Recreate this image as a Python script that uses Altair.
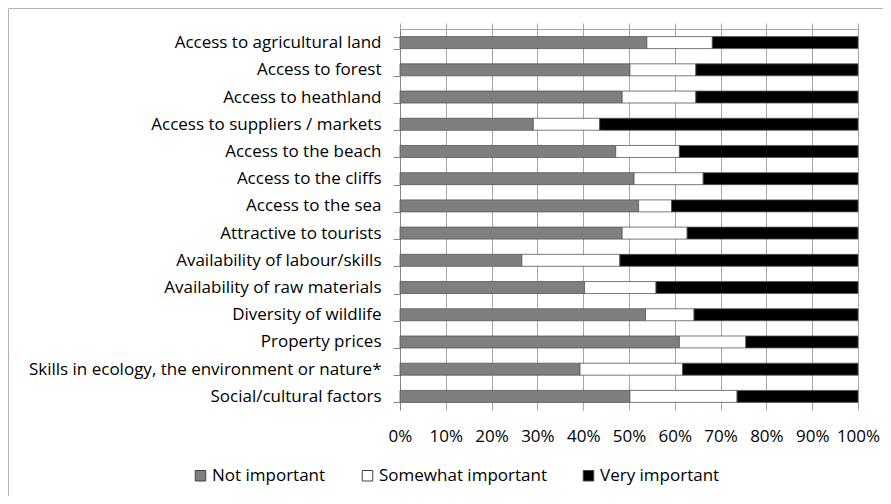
import altair as alt
import pandas as pd

categories = [
    "Access to agricultural land",
    "Access to forest",
    "Access to heathland",
    "Access to suppliers / markets",
    "Access to the beach",
    "Access to the cliffs",
    "Access to the sea",
    "Attractive to tourists",
    "Availability of labour/skills",
    "Availability of raw materials",
    "Diversity of wildlife",
    "Property prices",
    "Skills in ecology, the environment or nature*",
    "Social/cultural factors",
]
not_important = [53.9, 50.2, 48.5, 29.1, 47.1, 51.1, 52.1, 48.5, 26.6, 40.3, 53.6, 61.0, 39.3, 50.2]
somewhat_important = [14.3, 14.4, 16.1, 14.5, 13.9, 15.1, 7.2, 14.2, 21.4, 15.6, 10.6, 14.5, 22.4, 23.4]
very_important = [31.8, 35.4, 35.4, 56.4, 39.0, 33.8, 40.7, 37.3, 52.0, 44.1, 35.8, 24.5, 38.3, 26.4]
levels = ["Not important", "Somewhat important", "Very important"]
level_colors = ["#7f7f7f", "#ffffff", "#000000"]
x_ticks = [0, 0.1, 0.2, 0.3, 0.4, 0.5, 0.6, 0.7, 0.8, 0.9, 1.0]

rows = []
for i, c in enumerate(categories):
    for r, (lvl, vals) in enumerate(zip(levels, [not_important, somewhat_important, very_important])):
        rows.append({"category": c, "level": lvl, "rank": r, "value": vals[i]})
df = pd.DataFrame(rows)

FONT = "Open Sans"
FS = 17
W, H = 458, 381

y_enc = alt.Y(
    "category:N",
    sort=categories,
    scale=alt.Scale(paddingInner=0.56, paddingOuter=0.28),
    axis=alt.Axis(
        title=None, tickBand="extent", tickSize=7, tickColor="#868686",
        domainColor="#868686", labelPadding=12, labelLimit=400,
        labelFont=FONT, labelFontSize=FS, labelColor="#000000", grid=False,
    ),
)

bars = alt.Chart(df).mark_bar(stroke="#555555", strokeWidth=0.8).encode(
    x=alt.X(
        "value:Q", stack="normalize", scale=alt.Scale(domain=[0, 1]),
        axis=alt.Axis(
            orient="top", title=None, labels=False, values=x_ticks,
            tickSize=6, tickColor="#a6a6a6", domainColor="#a6a6a6",
            grid=True, gridColor="#a6a6a6", gridWidth=1,
        ),
    ),
    y=y_enc,
    color=alt.Color(
        "level:N",
        scale=alt.Scale(domain=levels, range=level_colors),
        legend=alt.Legend(
            title=None, orient="none", direction="horizontal", columns=3,
            legendX=-208, legendY=438, padding=0,
            symbolType="square", symbolSize=110, symbolStrokeColor="#404040",
            symbolStrokeWidth=1, labelFont=FONT, labelFontSize=FS,
            labelColor="#000000", labelOffset=3, columnPadding=33,
            labelLimit=300,
        ),
    ),
    order=alt.Order("rank:Q"),
)

bottom_labels = alt.Chart(df).mark_bar(opacity=0).encode(
    x=alt.X(
        "value:Q", stack="normalize", scale=alt.Scale(domain=[0, 1]),
        axis=alt.Axis(
            orient="bottom", title=None, format=".0%", values=x_ticks,
            ticks=False, domain=False, grid=False, labelPadding=18,
            labelOverlap=False, labelFlush=False, labelFont=FONT,
            labelFontSize=FS, labelColor="#000000",
        ),
    ),
    y=alt.Y("category:N", sort=categories, axis=None),
    order=alt.Order("rank:Q"),
)

frame_df = pd.DataFrame({"k": [0]})
frame_left = alt.Chart(frame_df).mark_rule(color="#b3b3b3", strokeWidth=1).encode(
    x=alt.value(-391.5), y=alt.value(-20.5), y2=alt.value(480)
)
frame_top = alt.Chart(frame_df).mark_rule(color="#b3b3b3", strokeWidth=1).encode(
    x=alt.value(-391.5), x2=alt.value(495), y=alt.value(-20.5)
)

chart = (
    alt.layer(bars, bottom_labels, frame_left, frame_top)
    .resolve_axis(x="independent", y="independent")
    .properties(
        width=W, height=H,
        autosize=alt.AutoSizeParams(type="none"),
        padding={"left": 392, "top": 21, "right": 25, "bottom": 86},
        background="#ffffff",
    )
    .configure_view(stroke=None)
)

chart.save("out.html", embed_options={"renderer": "svg", "actions": False})
